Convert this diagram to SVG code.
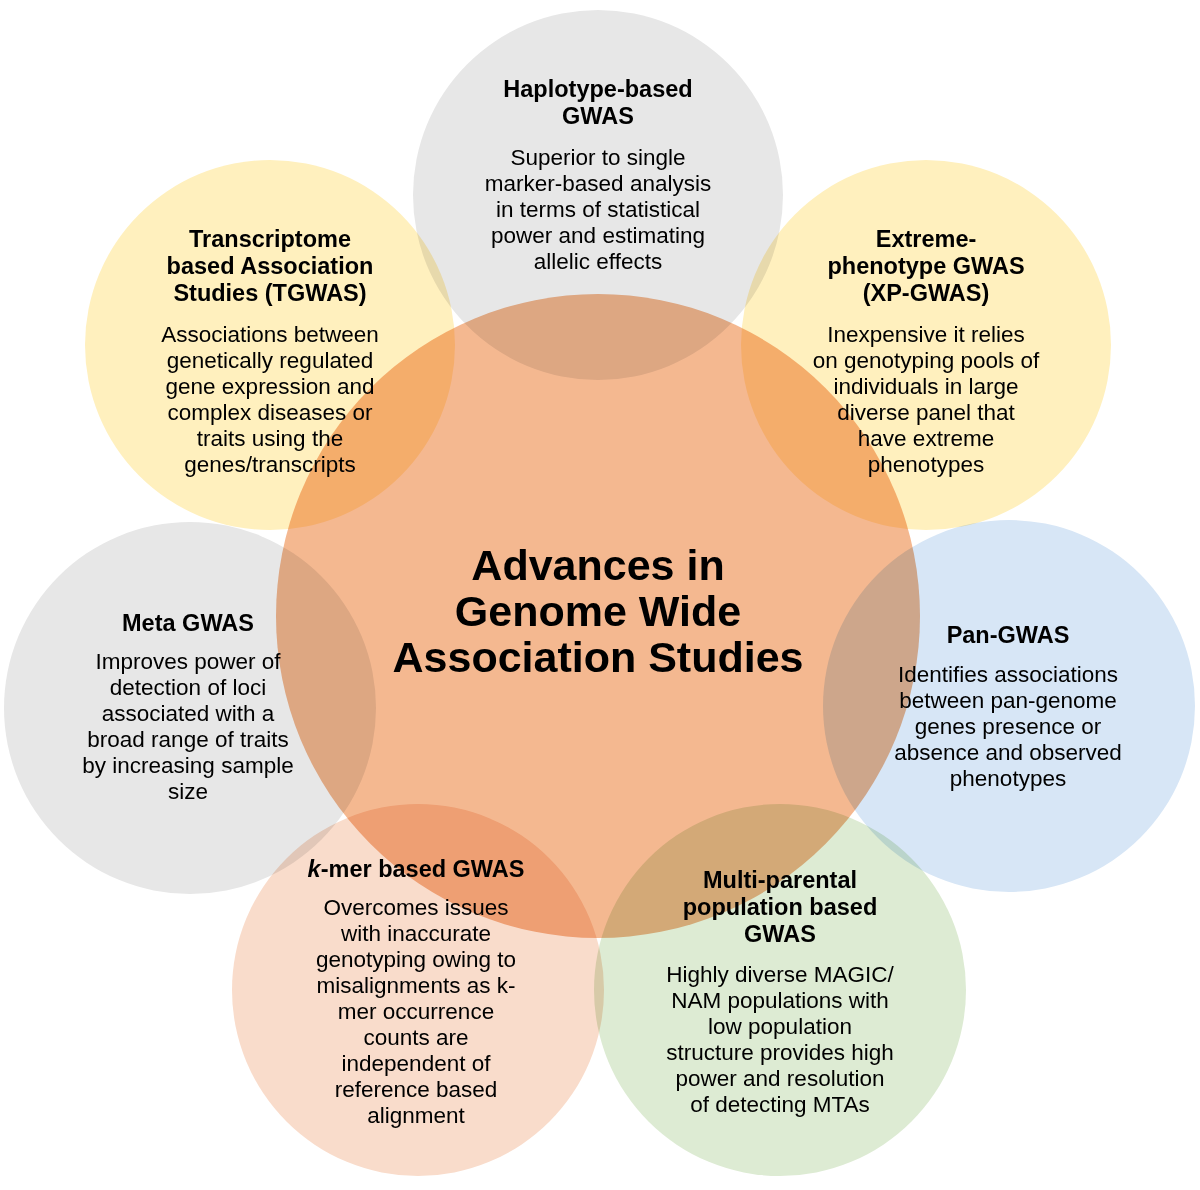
<svg xmlns="http://www.w3.org/2000/svg" width="1200" height="1190" viewBox="0 0 1200 1190">
<style>
.t{font-family:"Liberation Sans",Arial,sans-serif;font-size:23.5px;font-weight:bold;fill:#000;text-anchor:middle}
.b{font-family:"Liberation Sans",Arial,sans-serif;font-size:22.5px;fill:#000;text-anchor:middle}
.c{font-family:"Liberation Sans",Arial,sans-serif;font-size:43px;font-weight:bold;fill:#000;text-anchor:middle}
circle{mix-blend-mode:multiply}
</style>
<rect width="1200" height="1190" fill="#fff"/>
<g id="haplotype"><circle cx="598" cy="195" r="185" fill="#E7E7E7"/></g>
<g id="tgwas"><circle cx="270" cy="345" r="185" fill="#FFF0BE"/></g>
<g id="xpgwas"><circle cx="926" cy="345" r="185" fill="#FFF0BE"/></g>
<g id="meta"><circle cx="190" cy="708" r="186" fill="#E7E7E7"/></g>
<g id="pan"><circle cx="1009" cy="706" r="186" fill="#D7E6F6"/></g>
<g id="kmer"><circle cx="418" cy="990" r="186" fill="#F9DCCB"/></g>
<g id="multi"><circle cx="780" cy="990" r="186" fill="#DDEBD3"/></g>
<g id="center"><circle cx="598" cy="616" r="322" fill="#F4B890"/></g>
<g id="texts">
<text class="c" x="598" y="580">Advances in</text>
<text class="c" x="598" y="626">Genome Wide</text>
<text class="c" x="598" y="672">Association Studies</text>

<text class="t" x="598" y="97">Haplotype-based</text>
<text class="t" x="598" y="124">GWAS</text>
<text class="b" x="598" y="165">Superior to single</text>
<text class="b" x="598" y="191">marker-based analysis</text>
<text class="b" x="598" y="217">in terms of statistical</text>
<text class="b" x="598" y="243">power and estimating</text>
<text class="b" x="598" y="269">allelic effects</text>

<text class="t" x="270" y="247">Transcriptome</text>
<text class="t" x="270" y="274">based Association</text>
<text class="t" x="270" y="301">Studies (TGWAS)</text>
<text class="b" x="270" y="342">Associations between</text>
<text class="b" x="270" y="368">genetically regulated</text>
<text class="b" x="270" y="394">gene expression and</text>
<text class="b" x="270" y="420">complex diseases or</text>
<text class="b" x="270" y="446">traits using the</text>
<text class="b" x="270" y="472">genes/transcripts</text>

<text class="t" x="926" y="247">Extreme-</text>
<text class="t" x="926" y="274">phenotype GWAS</text>
<text class="t" x="926" y="301">(XP-GWAS)</text>
<text class="b" x="926" y="342">Inexpensive it relies</text>
<text class="b" x="926" y="368">on genotyping pools of</text>
<text class="b" x="926" y="394">individuals in large</text>
<text class="b" x="926" y="420">diverse panel that</text>
<text class="b" x="926" y="446">have extreme</text>
<text class="b" x="926" y="472">phenotypes</text>

<text class="t" x="188" y="631">Meta GWAS</text>
<text class="b" x="188" y="669">Improves power of</text>
<text class="b" x="188" y="695">detection of loci</text>
<text class="b" x="188" y="721">associated with a</text>
<text class="b" x="188" y="747">broad range of traits</text>
<text class="b" x="188" y="773">by increasing sample</text>
<text class="b" x="188" y="799">size</text>

<text class="t" x="1008" y="643">Pan-GWAS</text>
<text class="b" x="1008" y="682">Identifies associations</text>
<text class="b" x="1008" y="708">between pan-genome</text>
<text class="b" x="1008" y="734">genes presence or</text>
<text class="b" x="1008" y="760">absence and observed</text>
<text class="b" x="1008" y="786">phenotypes</text>

<text class="t" x="416" y="877"><tspan font-style="italic">k</tspan>-mer based GWAS</text>
<text class="b" x="416" y="915">Overcomes issues</text>
<text class="b" x="416" y="941">with inaccurate</text>
<text class="b" x="416" y="967">genotyping owing to</text>
<text class="b" x="416" y="993">misalignments as k-</text>
<text class="b" x="416" y="1019">mer occurrence</text>
<text class="b" x="416" y="1045">counts are</text>
<text class="b" x="416" y="1071">independent of</text>
<text class="b" x="416" y="1097">reference based</text>
<text class="b" x="416" y="1123">alignment</text>

<text class="t" x="780" y="888">Multi-parental</text>
<text class="t" x="780" y="915">population based</text>
<text class="t" x="780" y="942">GWAS</text>
<text class="b" x="780" y="982">Highly diverse MAGIC/</text>
<text class="b" x="780" y="1008">NAM populations with</text>
<text class="b" x="780" y="1034">low population</text>
<text class="b" x="780" y="1060">structure provides high</text>
<text class="b" x="780" y="1086">power and resolution</text>
<text class="b" x="780" y="1112">of detecting MTAs</text>
</g>
<g id="connectors"/>
</svg>
